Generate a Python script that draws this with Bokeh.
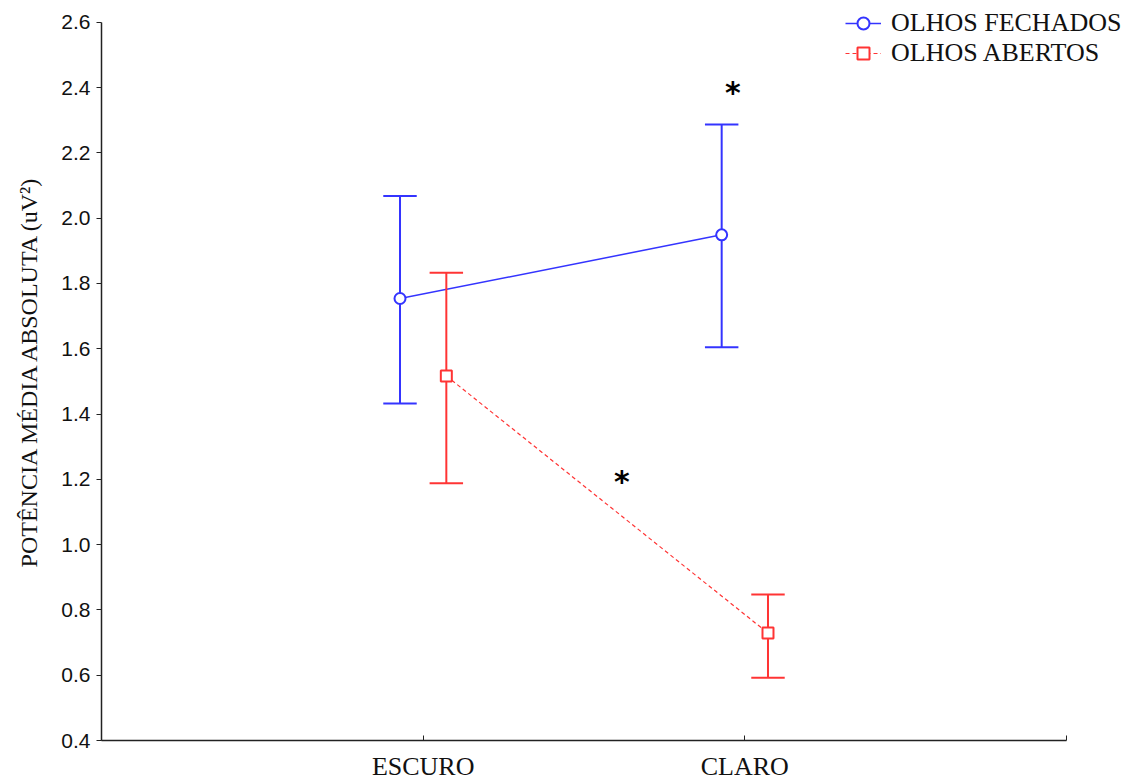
from bokeh.plotting import figure
from bokeh.models import FixedTicker, Legend, LegendItem, ColumnDataSource
from bokeh.core.properties import value
from bokeh.embed import file_html
from bokeh.resources import INLINE

categories = ["ESCURO", "CLARO"]
cat_pos = [1, 2]
fechados_mean = [1.754, 1.949]
fechados_low = [1.432, 1.605]
fechados_high = [2.068, 2.287]
abertos_mean = [1.517, 0.729]
abertos_low = [1.188, 0.592]
abertos_high = [1.833, 0.847]
star_x = [1.963, 1.618]
star_y = [2.384, 1.194]
y_ticks = [0.4, 0.6, 0.8, 1.0, 1.2, 1.4, 1.6, 1.8, 2.0, 2.2, 2.4, 2.6]

BLUE = "#3434ff"
RED = "#ff3434"
off = 0.072
cap = 0.052

# frame spans up to the canvas' top and right edges so the legend is not clipped;
# axes are bounded to the data extent (0..3, 0.4..2.6)
p = figure(width=1127, height=783, output_backend="svg", toolbar_location=None,
           x_range=(0, 3 * 1026 / 965), y_range=(0.4, 0.4 + 2.2 * 745 / 723),
           min_border_left=101, min_border_right=0, min_border_top=0, min_border_bottom=38)
p.grid.visible = False
p.outline_line_color = None
p.background_fill_color = "white"

def series(xs, mean, low, high, color, marker, dash, lw):
    src = ColumnDataSource(dict(x=xs, m=mean, lo=low, hi=high,
                                x0=[x - cap for x in xs], x1=[x + cap for x in xs]))
    p.segment(x0="x", y0="lo", x1="x", y1="hi", source=src, line_color=color, line_width=2)
    p.segment(x0="x0", y0="hi", x1="x1", y1="hi", source=src, line_color=color, line_width=2)
    p.segment(x0="x0", y0="lo", x1="x1", y1="lo", source=src, line_color=color, line_width=2)
    ln = p.line("x", "m", source=src, line_color=color, line_width=lw, line_dash=dash)
    mk = p.scatter("x", "m", source=src, marker=marker, size=11, fill_color="white",
                   line_color=color, line_width=2)
    return [ln, mk]

r1 = series([c - off for c in cat_pos], fechados_mean, fechados_low, fechados_high,
            BLUE, "circle", "solid", 1.5)
r2 = series([c + off for c in cat_pos], abertos_mean, abertos_low, abertos_high,
            RED, "square", "4 3", 1.2)

p.text(star_x, star_y, text=["*", "*"], text_font=value("DejaVu Sans"), text_font_size="30px",
       text_font_style="bold", text_align="center", text_baseline="middle", text_color="black")

# axes
p.xaxis.bounds = (0, 3)
p.xaxis.ticker = FixedTicker(ticks=[0, 1, 2, 3])
p.xaxis.major_label_overrides = {0: "", 1: categories[0], 2: categories[1], 3: ""}
p.xaxis.major_tick_in = 5
p.xaxis.major_tick_out = 0
p.xaxis.minor_tick_line_color = None
p.xaxis.major_label_text_font = "Liberation Serif"
p.xaxis.major_label_text_font_size = "26px"
p.xaxis.major_label_text_color = "#111111"
p.xaxis.major_label_standoff = 11
p.xaxis.axis_line_color = "#222222"
p.xaxis.major_tick_line_color = "#222222"
p.xaxis.axis_line_width = 1.5

p.yaxis.bounds = (0.4, 2.6)
p.yaxis.ticker = FixedTicker(ticks=y_ticks)
p.yaxis.major_label_overrides = {v: f"{v:.1f}" for v in y_ticks}
p.yaxis.major_tick_in = 0
p.yaxis.major_tick_out = 5
p.yaxis.minor_tick_line_color = None
p.yaxis.major_label_text_font = "Liberation Sans"
p.yaxis.major_label_text_font_size = "21px"
p.yaxis.major_label_text_color = "#111111"
p.yaxis.major_label_standoff = 6
p.yaxis.axis_line_color = "#222222"
p.yaxis.major_tick_line_color = "#222222"
p.yaxis.axis_line_width = 1.5
p.yaxis.axis_label = "POTÊNCIA MÉDIA ABSOLUTA (uV²)"
p.yaxis.axis_label_text_font = "Liberation Serif"
p.yaxis.axis_label_text_font_size = "24px"
p.yaxis.axis_label_text_font_style = "normal"
p.yaxis.axis_label_text_color = "#111111"
p.yaxis.axis_label_standoff = 16

legend = Legend(items=[LegendItem(label="OLHOS FECHADOS", renderers=r1),
                       LegendItem(label="OLHOS ABERTOS", renderers=r2)],
                location=(744, 672), orientation="vertical",
                label_text_font="Liberation Serif", label_text_font_size="26px",
                label_text_color="#111111", glyph_width=36, glyph_height=30,
                spacing=0, padding=2, margin=0, border_line_color=None,
                background_fill_alpha=0, label_standoff=10)
p.add_layout(legend, "center")

open("out.html", "w").write(file_html(p, INLINE))
